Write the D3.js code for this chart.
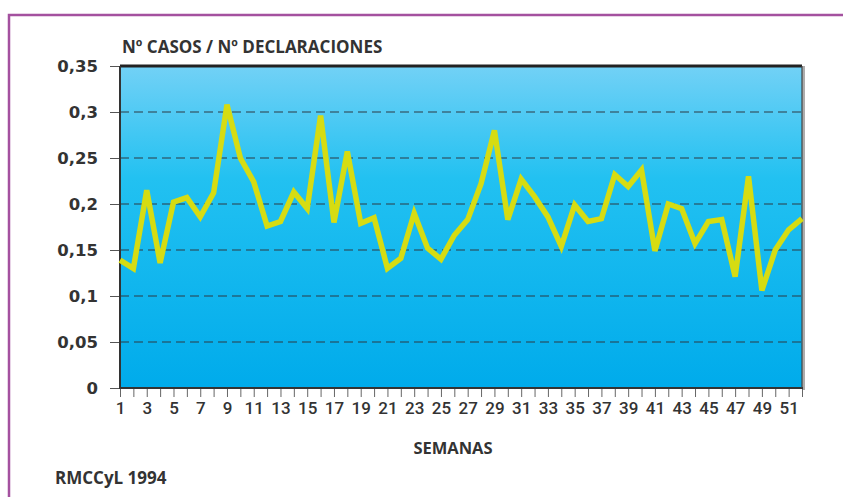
<!DOCTYPE html>
<html><head><meta charset="utf-8">
<script src="https://cdn.jsdelivr.net/npm/d3@7"></script>
<style>body{margin:0;background:#fff}svg{display:block}</style>
</head><body>
<svg id="c" width="843" height="497"></svg>
<script>
const weeks = d3.range(1, 53);
const values = [0.139,0.130,0.215,0.136,0.202,0.207,0.186,0.212,0.308,0.250,
0.224,0.176,0.181,0.213,0.195,0.296,0.180,0.257,0.179,0.185,
0.130,0.141,0.190,0.152,0.140,0.166,0.183,0.222,0.280,0.183,
0.227,0.208,0.186,0.154,0.199,0.181,0.184,0.232,0.219,0.237,
0.149,0.200,0.195,0.157,0.181,0.183,0.121,0.230,0.106,0.150,
0.172,0.184];
const yTicks = [0,0.05,0.1,0.15,0.2,0.25,0.3,0.35];
const xTickLabels = d3.range(1, 53, 2);
const title = "Nº CASOS / Nº DECLARACIONES";
const xTitle = "SEMANAS";
const source = "RMCCyL 1994";

const svg = d3.select("#c");
const L = 120, R = 802, T = 66, B = 388;
const x = d3.scaleLinear().domain([1, 52]).range([L, R]);
const y = d3.scaleLinear().domain([0, 0.35]).range([B, T]);

// outer frame
svg.append("path").attr("d", `M9,520 V15 H860`).attr("fill","none")
  .attr("stroke","#a4519f").attr("stroke-width",2.5);

const defs = svg.append("defs");
const g = defs.append("linearGradient").attr("id","bg").attr("x1",0).attr("y1",0).attr("x2",0).attr("y2",1);
g.append("stop").attr("offset","0%").attr("stop-color","#72d1f6");
g.append("stop").attr("offset","35%").attr("stop-color","#22c1f1");
g.append("stop").attr("offset","100%").attr("stop-color","#00abeb");

// shadow right
svg.append("rect").attr("x",R).attr("y",T).attr("width",3).attr("height",B-T+2).attr("fill","#777").attr("opacity",0.6);
svg.append("rect").attr("x",L).attr("y",T).attr("width",R-L).attr("height",B-T).attr("fill","url(#bg)");

// grid
svg.append("g").selectAll("line").data(yTicks.filter(d=>d>0 && d<0.35)).join("line")
  .attr("x1",L).attr("x2",R).attr("y1",d=>y(d)).attr("y2",d=>y(d))
  .attr("stroke","#2d3a44").attr("stroke-width",1.2).attr("stroke-dasharray","9,5");

// y axis
const ya = svg.append("g").attr("transform",`translate(${L},0)`)
  .call(d3.axisLeft(y).tickValues(yTicks).tickSize(10).tickPadding(12)
    .tickFormat(d=>d3.format("")(d).replace(".",",")));
ya.select(".domain").remove();
ya.selectAll(".tick line").attr("stroke","#555").attr("stroke-width",1);
ya.selectAll("text").attr("fill","#333").attr("font-family","DejaVu Sans, sans-serif")
  .attr("font-weight","bold").attr("font-size",16.5);

// x axis
const xa = svg.append("g").attr("transform",`translate(0,${B})`)
  .call(d3.axisBottom(x).tickValues(weeks).tickSize(9).tickPadding(5)
    .tickFormat(d=> xTickLabels.includes(d) ? d : ""));
xa.select(".domain").remove();
xa.selectAll(".tick line").attr("stroke","#666").attr("stroke-width",1);
xa.selectAll("text").attr("fill","#333").attr("font-family","Roboto, sans-serif")
  .attr("font-weight","500").attr("font-size",17);

// plot frame
svg.append("line").attr("x1",L).attr("x2",R).attr("y1",T).attr("y2",T).attr("stroke","#222").attr("stroke-width",3);
svg.append("line").attr("x1",L).attr("x2",L).attr("y1",T).attr("y2",B+1).attr("stroke","#333").attr("stroke-width",2);
svg.append("line").attr("x1",L).attr("x2",R+1).attr("y1",B).attr("y2",B).attr("stroke","#333").attr("stroke-width",2);
svg.append("line").attr("x1",R).attr("x2",R).attr("y1",T).attr("y2",B).attr("stroke","#444").attr("stroke-width",1.2);

// line
svg.append("path").datum(values)
  .attr("d", d3.line().x((d,i)=>x(weeks[i])).y(d=>y(d)))
  .attr("fill","none").attr("stroke","#d6dc12").attr("stroke-width",5.5).attr("stroke-linejoin","miter");

// texts
svg.append("text").attr("x",122).attr("y",53).text(title)
  .attr("font-family","Open Sans, sans-serif").attr("font-weight","700")
  .attr("font-size",17).attr("fill","#333");
svg.append("text").attr("x",453).attr("y",454).attr("text-anchor","middle").text(xTitle)
  .attr("font-family","Open Sans, sans-serif").attr("font-weight","700")
  .attr("font-size",16.5).attr("fill","#333");
svg.append("text").attr("x",55).attr("y",484).text(source)
  .attr("font-family","Open Sans, sans-serif").attr("font-weight","700")
  .attr("font-size",17).attr("fill","#333");
</script>
</body></html>
